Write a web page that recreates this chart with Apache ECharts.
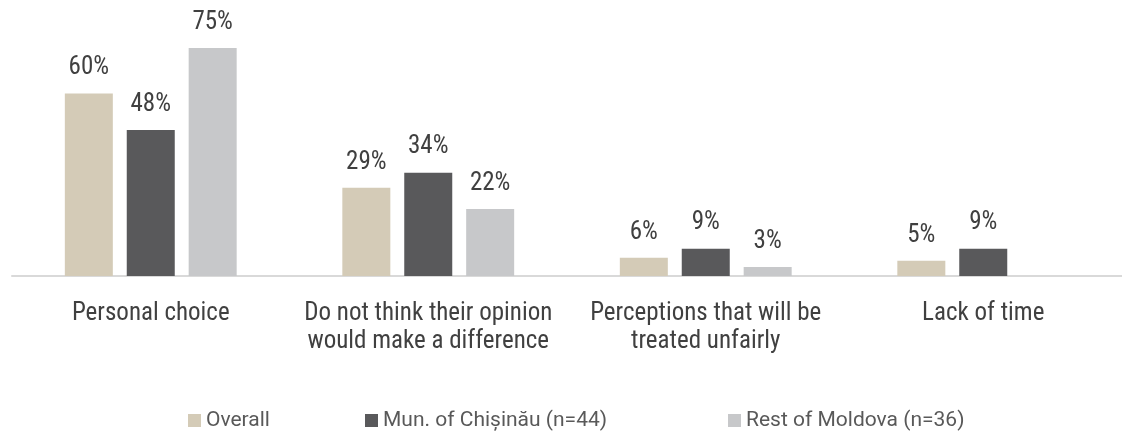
<!DOCTYPE html>
<html>
<head>
<meta charset="utf-8">
<script src="https://cdn.jsdelivr.net/npm/echarts@6/dist/echarts.min.js"></script>
<style>
html,body{margin:0;padding:0;background:#fff;}
#chart{width:1122px;height:436px;}
</style>
</head>
<body>
<div id="chart"></div>
<script>
const categories = ['Personal choice', 'Do not think their opinion\nwould make a difference', 'Perceptions that will be\ntreated unfairly', 'Lack of time'];
const seriesNames = ['Overall', 'Mun. of Chișinău (n=44)', 'Rest of Moldova (n=36)'];
const overall = [60, 29, 6, 5];
const chisinau = [48, 34, 9, 9];
const restMoldova = [75, 22, 3, null];
const colors = ['#D4CBB7', '#59595B', '#C7C8CA'];
const FONT = '"Roboto Condensed", Roboto, sans-serif';
const LEGEND_FONT = 'Roboto, sans-serif';

const chart = echarts.init(document.getElementById('chart'));
const dataSets = [overall, chisinau, restMoldova];
const legendLefts = [183, 360, 723];

chart.setOption({
  animation: false,
  textStyle: {fontFamily: FONT},
  grid: {left: 12, right: -14, top: 2.4, bottom: 160, containLabel: false},
  legend: seriesNames.map((n, i) => ({
    data: [n], left: legendLefts[i], top: 405,
    itemWidth: 13, itemHeight: 13, itemGap: 6,
    icon: 'rect',
    textStyle: {fontSize: 21, color: '#595959', fontFamily: LEGEND_FONT}
  })),
  xAxis: {
    type: 'category',
    data: categories,
    axisLine: {lineStyle: {color: '#D9D9D9', width: 2}},
    axisTick: {show: false},
    axisLabel: {fontSize: 25, color: '#404040', lineHeight: 28, margin: 24, interval: 0, fontFamily: FONT}
  },
  yAxis: {type: 'value', min: 0, max: 90, show: false, splitLine: {show: false}},
  series: dataSets.map((d, i) => ({
    name: seriesNames[i],
    type: 'bar',
    data: d,
    barWidth: 48,
    barGap: '29%',
    barCategoryGap: '38.8%',
    itemStyle: {color: colors[i]},
    label: {
      show: true, position: 'top', distance: 13,
      formatter: p => p.value == null ? '' : p.value + '%',
      fontSize: 25, color: '#404040', fontFamily: FONT
    }
  }))
});
</script>
</body>
</html>
